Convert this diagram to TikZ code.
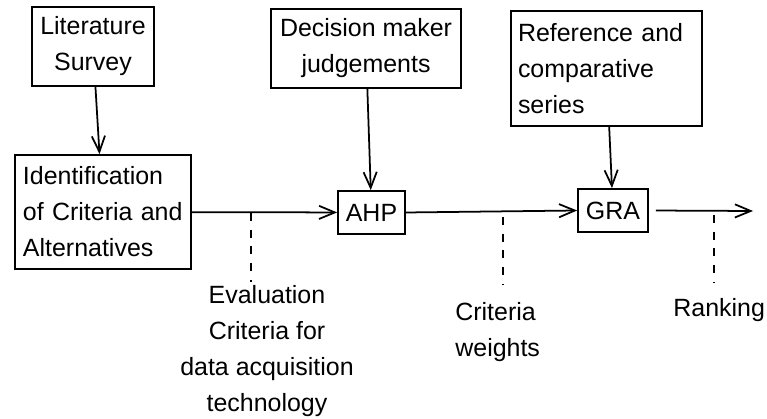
\documentclass[tikz,border=0pt]{standalone}
\usepackage{fontspec}
\setmainfont{Liberation Sans}
\usetikzlibrary{arrows.meta}

\tikzset{
  box/.style={draw, line width=1pt, inner sep=0pt, align=center},
  flow/.style={-{Straight Barb[length=9pt,width=7.5pt]}, line width=1pt},
  guide/.style={line width=1pt, dash pattern=on 4.5pt off 5pt},
  note/.style={inner sep=0pt, align=center},
}

\begin{document}
\begin{tikzpicture}[font=\fontsize{14.2}{20.5}\selectfont]
      \useasboundingbox (0,0) rectangle (15.34,8.38);
      % Draw input boxes
      \node (lit) [box, minimum width=2.44cm, minimum height=1.58cm] at (1.86,7.45)
        {Literature\\Survey};
      \node (dm) [box, minimum width=3.8cm, minimum height=1.58cm] at (7.32,7.41)
        {Decision maker\\judgements};
      \node (ref) [box, minimum width=3.82cm, minimum height=2.3cm,
        text width=3.54cm, align=left] at (12.13,7.01)
        {Reference and\\comparative\\series};
      % Draw process boxes
      \node (ident) [box, minimum width=3.52cm, minimum height=2.28cm,
        text width=3.2cm, align=left] at (2.06,4.14)
        {Identification\\of Criteria and\\Alternatives};
      \node (ahp) [box, minimum width=1.34cm, minimum height=0.86cm] at (7.43,4.13) {AHP};
      \node (gra) [box, minimum width=1.4cm, minimum height=0.86cm] at (12.26,4.17) {GRA};
      \coordinate (out) at (15.06,4.16);
      % Draw the arrows
      \draw [flow] (lit) -- (ident);
      \draw [flow] (dm) -- (ahp);
      \draw [flow] (ref) -- (gra);
      \draw [flow] (ident) -- (ahp);
      \draw [flow] (ahp.east) -- (gra.west);
      \draw [flow, shorten <=0.14cm] (gra.east) -- (out);
      % Draw the outputs
      \node (eval) [note] at (5.34,1.36)
        {Evaluation\\Criteria for\\data acquisition\\technology};
      \node (weights) [note, anchor=west, align=left] at (9.1,1.74) {Criteria\\weights};
      \node (rank) [note, anchor=west] at (13.46,2.17) {Ranking};
      \coordinate (d1) at (5.02,4.12);
      \coordinate (e1) at (5.02,2.74);
      \coordinate (d2) at (10.06,4.04);
      \coordinate (e2) at (10.06,2.68);
      \coordinate (d3) at (14.28,4.08);
      \coordinate (e3) at (14.28,2.72);
      \draw [guide] (d1) -- (e1);
      \draw [guide] (d2) -- (e2);
      \draw [guide] (d3) -- (e3);
    \end{tikzpicture}
\end{document}
